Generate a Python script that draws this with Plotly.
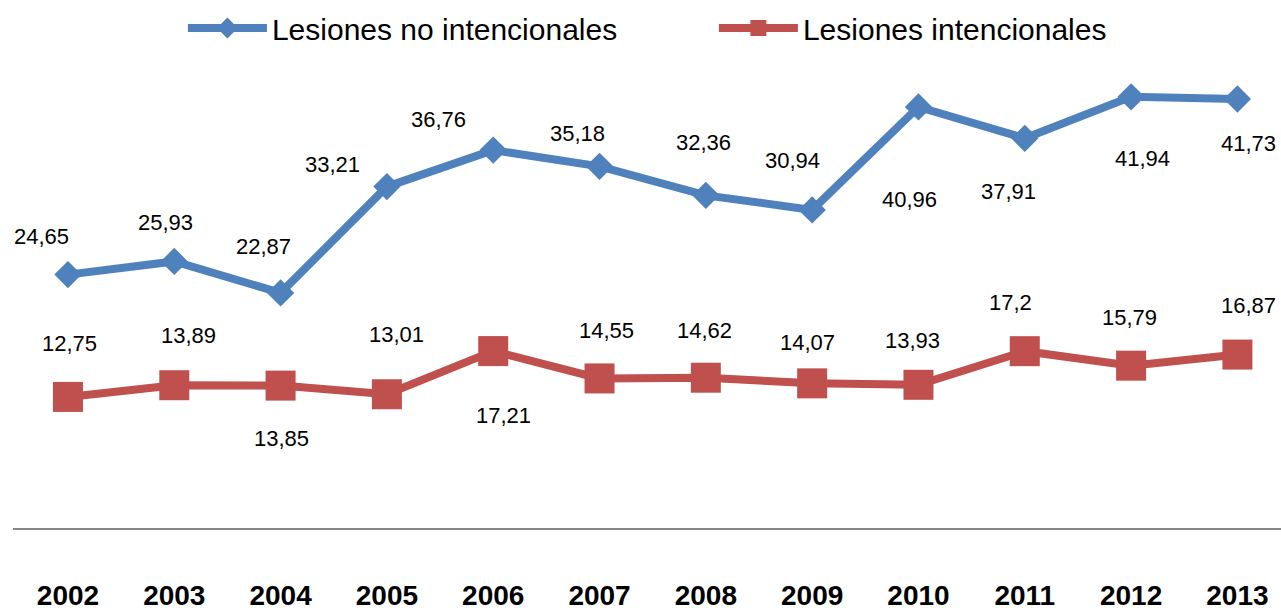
import plotly.graph_objects as go

years = ["2002", "2003", "2004", "2005", "2006", "2007", "2008", "2009", "2010", "2011", "2012", "2013"]
no_intencionales = [24.65, 25.93, 22.87, 33.21, 36.76, 35.18, 32.36, 30.94, 40.96, 37.91, 41.94, 41.73]
intencionales = [12.75, 13.89, 13.85, 13.01, 17.21, 14.55, 14.62, 14.07, 13.93, 17.2, 15.79, 16.87]

series_names = ["Lesiones no intencionales", "Lesiones intencionales"]

# label offsets (pixels) relative to each point: style only
blue_dx = [-26, -9, -17, -54, -55, -22, -2, -20, -9, -16, 11, 11]
blue_dy = [38, 39, 46, 22, 31, 33, 53, 49, -93, -53, -62, -44]
red_dx = [2, 14, 1, 10, 10, 7, -1, -5, -6, -14, -2, 11]
red_dy = [53, 50, -53, 60, -64, 48, 47, 41, 44, 49, 48, 49]

BLUE = "#4F81BD"
RED = "#C0504D"
FONT = "Liberation Sans, Arial, sans-serif"

def fmt(v):
    return str(v).replace(".", ",")

fig = go.Figure()
fig.add_trace(go.Scatter(
    x=years, y=no_intencionales, name=series_names[0], mode="lines+markers",
    line=dict(color=BLUE, width=8),
    marker=dict(symbol="diamond", size=21, color=BLUE),
))
fig.add_trace(go.Scatter(
    x=years, y=intencionales, name=series_names[1], mode="lines+markers",
    line=dict(color=RED, width=8),
    marker=dict(symbol="square", size=30, color=RED),
))

annotations = []
for i, (v, dx, dy) in enumerate(zip(no_intencionales, blue_dx, blue_dy)):
    annotations.append(dict(x=i, y=v, xref="x", yref="y", text=fmt(v), showarrow=False,
                            xshift=dx, yshift=dy,
                            font=dict(family=FONT, size=22, color="black")))
for i, (v, dx, dy) in enumerate(zip(intencionales, red_dx, red_dy)):
    annotations.append(dict(x=i, y=v, xref="x", yref="y", text=fmt(v), showarrow=False,
                            xshift=dx, yshift=dy,
                            font=dict(family=FONT, size=22, color="black")))

fig.update_layout(
    width=1281, height=610, autosize=False,
    margin=dict(l=13, r=0, t=0, b=82, autoexpand=False),
    plot_bgcolor="white", paper_bgcolor="white",
    annotations=annotations,
    showlegend=True,
    legend=dict(
        orientation="h", x=0.134, xanchor="left", y=0.947, yanchor="middle",
        font=dict(family=FONT, size=30, color="black"),
        itemwidth=79, entrywidth=437, entrywidthmode="pixels",
        bgcolor="rgba(0,0,0,0)", borderwidth=0,
    ),
    xaxis=dict(
        type="category", range=[-0.517, 11.41], automargin=False,
        showgrid=False, zeroline=False, showline=True, linecolor="#868686", linewidth=2,
        ticks="", ticklabelstandoff=41,
        tickfont=dict(family=FONT, size=28, color="black", weight="bold"),
    ),
    yaxis=dict(
        range=[0, 528 / 10.28], showgrid=False, zeroline=False, showline=False,
        showticklabels=False, ticks="", automargin=False,
    ),
)

fig.write_html(
    "out.html",
    config={"displayModeBar": False},
    post_script="document.body.style.margin='0';document.body.style.overflow='hidden';",
)
